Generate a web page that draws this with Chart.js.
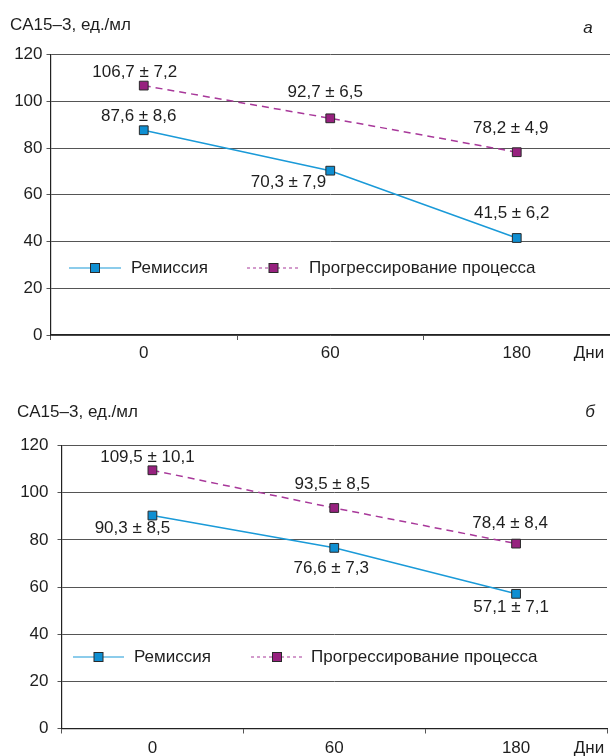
<!DOCTYPE html>
<html>
<head>
<meta charset="utf-8">
<script src="https://cdn.jsdelivr.net/npm/chart.js@4/dist/chart.umd.min.js"></script>
<style>
html,body{margin:0;padding:0;background:#fff;overflow:hidden;}
#wrap{position:relative;width:610px;height:756px;overflow:hidden;}
#ca{position:absolute;left:0;top:0;}
#cb{position:absolute;left:0;top:375px;}
</style>
</head>
<body>
<div id="wrap">
<canvas id="ca" width="610" height="375"></canvas>
<canvas id="cb" width="610" height="381"></canvas>
</div>
<script>
// ---- data ----
const categories = ['0', '60', '180'];
const seriesNames = ['Ремиссия', 'Прогрессирование процесса'];
const yTicks = [0, 20, 40, 60, 80, 100, 120];
// panel а
const aRemission = [87.6, 70.3, 41.5];
const aRemissionSD = [8.6, 7.9, 6.2];
const aProgression = [106.7, 92.7, 78.2];
const aProgressionSD = [7.2, 6.5, 4.9];
// panel б
const bRemission = [90.3, 76.6, 57.1];
const bRemissionSD = [8.5, 7.3, 7.1];
const bProgression = [109.5, 93.5, 78.4];
const bProgressionSD = [10.1, 8.5, 8.4];

const yTitle = 'CA15–3, ед./мл';
const xUnit = 'Дни';

const FONT = '"Liberation Sans", Arial, sans-serif';
const FS = 17;
const TXT = '#1e1e1e';
const BLUE = '#1a9ad8', BLUE_F = '#0f8fd2';
const MAG = '#a8389a', MAG_F = '#97217f';
const GRID = '#555555';

function fmt(v){ return v.toFixed(1).replace('.', ','); }

const overlay = {
  id: 'overlay',
  afterDatasetsDraw(chart, args, o) {
    const ctx = chart.ctx;
    ctx.save();
    ctx.fillStyle = TXT;
    ctx.font = FS + 'px ' + FONT;
    ctx.textBaseline = 'middle';
    // value labels
    o.labels.forEach(function(spec, di){
      const meta = chart.getDatasetMeta(di);
      const vals = chart.data.datasets[di].data;
      const sds = chart.data.datasets[di].sd;
      spec.forEach(function(off, i){
        const p = meta.data[i];
        ctx.textAlign = off[2] || 'center';
        ctx.fillText(fmt(vals[i]) + ' ± ' + fmt(sds[i]), p.x + off[0], p.y + off[1]);
      });
    });
    // title and panel letter
    ctx.textAlign = 'left';
    ctx.fillText(yTitle, o.title[0], o.title[1]);
    ctx.font = 'italic ' + FS + 'px ' + FONT;
    ctx.textAlign = 'center';
    ctx.fillText(o.letter, o.letterPos[0], o.letterPos[1]);
    // x unit
    ctx.font = FS + 'px ' + FONT;
    ctx.fillText(xUnit, o.unit[0], o.unit[1]);
    // legend
    const lg = o.legend;
    chart.data.datasets.forEach(function(ds, di){
      const it = lg.items[di];
      ctx.save();
      ctx.strokeStyle = ds.borderColor;
      ctx.lineWidth = 1.2;
      ctx.setLineDash(di === 1 ? [3, 3] : []);
      ctx.beginPath();
      ctx.moveTo(it[0], lg.y); ctx.lineTo(it[1], lg.y);
      ctx.stroke();
      ctx.setLineDash([]);
      const m = (it[0] + it[1]) / 2;
      ctx.fillStyle = ds.pointBackgroundColor;
      ctx.strokeStyle = '#2a2a2a';
      ctx.lineWidth = 1;
      ctx.fillRect(m - 4.5, lg.y - 4.5, 9, 9);
      ctx.strokeRect(m - 4.5, lg.y - 4.5, 9, 9);
      ctx.restore();
      ctx.textAlign = 'left';
      ctx.fillStyle = TXT;
      ctx.fillText(ds.label, it[2], lg.y);
    });
    ctx.restore();
  }
};

function makeChart(id, rem, remSD, prog, progSD, geo, ov) {
  const c = document.getElementById(id);
  return new Chart(c, {
    type: 'line',
    data: {
      labels: categories,
      datasets: [
        { label: seriesNames[0], data: rem, sd: remSD, borderColor: BLUE, borderWidth: 1.5,
          pointStyle: 'rect', pointRadius: 6.2, pointBackgroundColor: BLUE_F, pointBorderColor: '#2a2a2a',
          pointBorderWidth: 1, tension: 0 },
        { label: seriesNames[1], data: prog, sd: progSD, borderColor: MAG, borderWidth: 1.5, borderDash: [7, 5],
          pointStyle: 'rect', pointRadius: 6.2, pointBackgroundColor: MAG_F, pointBorderColor: '#2a2a2a',
          pointBorderWidth: 1, tension: 0 }
      ]
    },
    options: {
      responsive: false, animation: false, devicePixelRatio: 1,
      layout: { autoPadding: false, padding: { top: geo.top, right: geo.right, left: 0, bottom: 0 } },
      plugins: { legend: { display: false }, tooltip: { enabled: false }, overlay: ov },
      scales: {
        x: {
          type: 'category', offset: true,
          grid: { offset: true, drawOnChartArea: false, drawTicks: true, tickLength: 5, color: GRID },
          border: { display: true, color: '#222', width: 1.2 },
          ticks: { color: TXT, font: { family: FONT, size: FS }, padding: geo.xPad, maxRotation: 0 },
          afterFit: function(s){ s.height = geo.xH; s.paddingLeft = 0; s.paddingRight = 0; }
        },
        y: {
          min: 0, max: 120,
          afterBuildTicks: function(s){ s.ticks = yTicks.map(function(v){ return { value: v }; }); },
          grid: { color: GRID, tickLength: 4, lineWidth: 1 },
          border: { display: true, color: '#222', width: 1.2 },
          ticks: { color: TXT, font: { family: FONT, size: FS }, padding: geo.yPad },
          afterFit: function(s){ s.width = geo.yW; s.paddingTop = 0; s.paddingBottom = 0; }
        }
      }
    },
    plugins: [overlay]
  });
}

makeChart('ca', aRemission, aRemissionSD, aProgression, aProgressionSD,
  { top: 54.5, right: 0, xH: 40, xPad: 3, yW: 50.5, yPad: 4 },
  {
    labels: [
      [[-5, -14], [-4, 12, 'right'], [-5, -25]],
      [[-9, -13], [-5, -26], [-6, -24]]
    ],
    title: [10, 25], letter: 'а', letterPos: [588, 28], unit: [589, 353],
    legend: { y: 268, items: [[69, 121, 131], [247, 300, 309]] }
  });

makeChart('cb', bRemission, bRemissionSD, bProgression, bProgressionSD,
  { top: 70.5, right: 3, xH: 27.5, xPad: 5, yW: 61.5, yPad: 9 },
  {
    labels: [
      [[-20, 13], [-3, 20], [-5, 13]],
      [[-5, -13], [-2, -24], [-6, -20]]
    ],
    title: [17, 37], letter: 'б', letterPos: [590, 37], unit: [589, 373],
    legend: { y: 282, items: [[73, 124, 134], [251, 303, 311]] }
  });
</script>
</body>
</html>
